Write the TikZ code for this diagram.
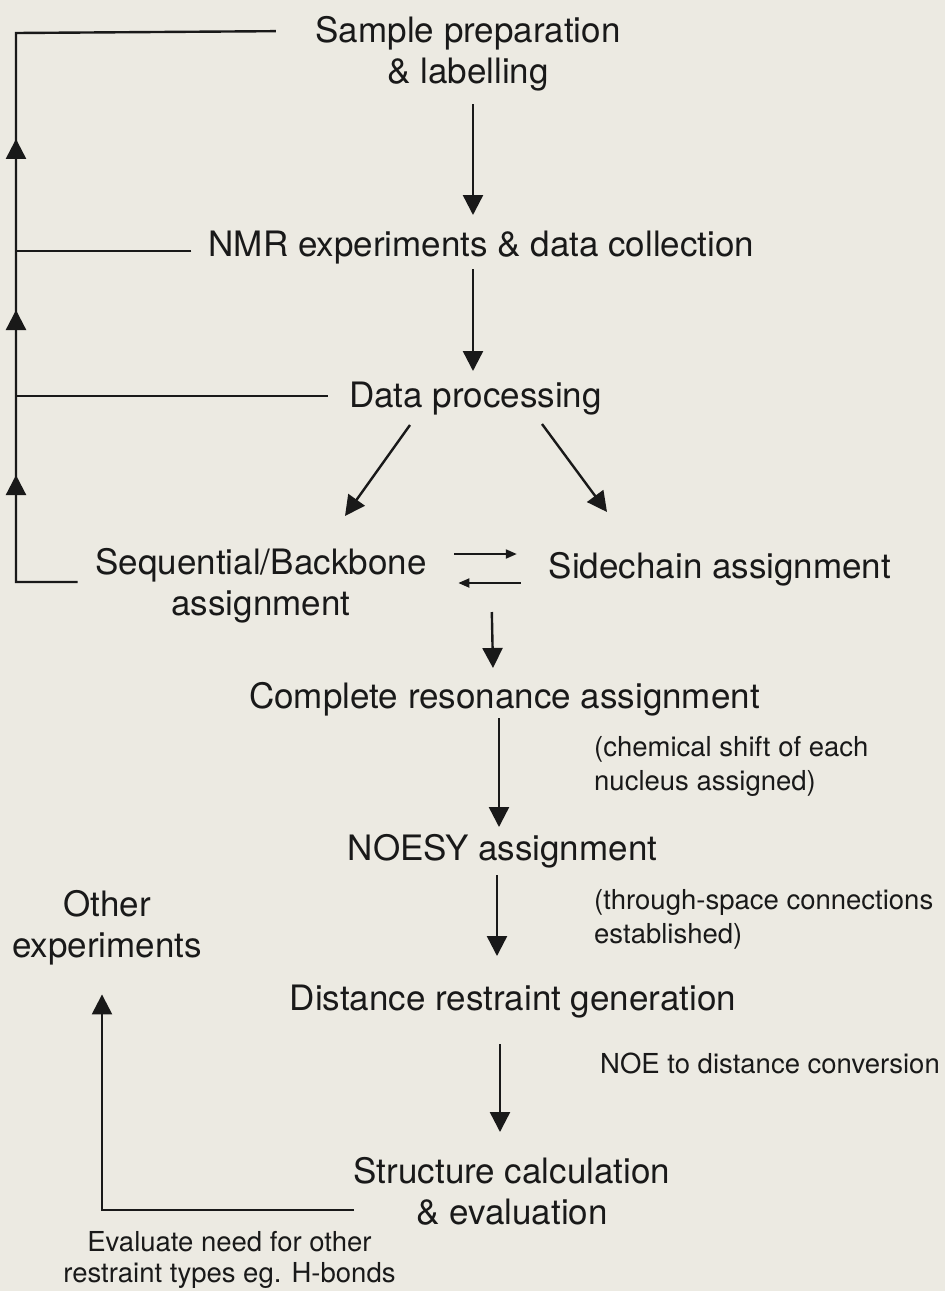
\documentclass[tikz,border=0pt]{standalone}
\usepackage{fontspec}
\setmainfont{TeX Gyre Heros}
\usetikzlibrary{arrows.meta, calc}
\definecolor{paper}{RGB}{236,234,226}
\definecolor{ink}{RGB}{25,25,25}

\begin{document}
\begin{tikzpicture}[x=0.5pt, y=-0.5pt, color=ink, line width=1.2pt,
        big/.style={font=\fontsize{17.5}{20.5}\selectfont, inner sep=0pt},
        small/.style={font=\fontsize{13.75}{17}\selectfont, inner sep=0pt},
        arr/.style={-{Triangle[width=10pt, length=10pt]}},
        harr/.style={line width=1pt, -{Triangle[width=4.5pt, length=5.5pt]}}]
        \fill[paper] (0, 0) rectangle (945, 1291);
        \useasboundingbox (0, 0) rectangle (945, 1291);

        \node[big, align=center, anchor=base] (sample) at (468, 83) {Sample preparation\\\& labelling};
        \node[big, anchor=base] (nmr) at (481.5, 256) {NMR experiments \& data collection};
        \node[big, anchor=base] (data) at (475.5, 407) {Data processing};
        \node[big, align=center, anchor=base] (seq) at (261, 615) {Sequential/Backbone\\assignment};
        \node[big, anchor=base] (side) at (720, 578) {Sidechain assignment};
        \node[big, anchor=base] (complete) at (504.5, 708) {Complete resonance assignment};
        \node[small, align=left, anchor=base west] (chemnote) at (593, 790) {(chemical shift of each\\nucleus assigned)};
        \node[big, anchor=base] (noesy) at (502.5, 860) {NOESY assignment};
        \node[small, align=left, anchor=base west] (spacenote) at (593, 943) {(through-space connections\\established)};
        \node[big, align=center, anchor=base] (other) at (107, 957) {Other\\experiments};
        \node[big, anchor=base] (distance) at (513, 1010) {Distance restraint generation};
        \node[small, anchor=base west] (convnote) at (599, 1073) {NOE to distance conversion};
        \node[big, align=center, anchor=base] (struct) at (512, 1224) {Structure calculation\\\& evaluation};
        \node[small, align=center, anchor=base, font=\fontsize{13.75}{15.5}\selectfont] (need) at (229.5, 1282) {Evaluate need for other\\restraint types eg. H-bonds};

        % main flow
        \draw[arr] ([xshift=2.5pt, yshift=-6.3pt]sample.south) -- ([xshift=-4.25pt, yshift=20.5pt]nmr.base);
        \draw[arr] ([xshift=-4.25pt, yshift=-6.5pt]nmr.base) -- ([xshift=-1.25pt, yshift=18pt]data.base);
        \draw[arr] ([xshift=-32.75pt, yshift=-9pt]data.base) -- ([xshift=42pt, yshift=49.5pt]seq.base);
        \draw[arr] ([xshift=33.25pt, yshift=-8.5pt]data.base) -- ([xshift=-56.5pt, yshift=33pt]side.base);
        \draw[harr] ([xshift=13.3pt, yshift=30.5pt]seq.base east) -- ([xshift=-15.4pt, yshift=12pt]side.base west);
        \draw[harr] ([xshift=-13.4pt, yshift=-2.5pt]side.base west) -- ([xshift=15.3pt, yshift=16pt]seq.base east);
        \draw[arr] ([xshift=-27.9pt, yshift=-17pt]side.base west) -- ([xshift=-5.75pt, yshift=20pt]complete.base);
        \draw[arr] ([xshift=-2.75pt, yshift=-5pt]complete.base) -- ([xshift=-1.75pt, yshift=16.5pt]noesy.base);
        \draw[arr] ([xshift=-2.75pt, yshift=-7.5pt]noesy.base) -- ([xshift=-8pt, yshift=27pt]distance.base);
        \draw[arr] ([xshift=-6.5pt, yshift=-17pt]distance.base) -- ([xshift=-6pt, yshift=46pt]struct.base);

        % feedback to other experiments
        \draw[arr] ([xshift=0.75pt, yshift=7pt]struct.base west) -| ([xshift=-2.5pt, yshift=-14.3pt]other.south);

        % feedback line on the left
        \coordinate (back1) at (16, 33);
        \coordinate (back2) at (16, 251);
        \coordinate (back3) at (16, 396);
        \coordinate (back4) at (16, 582);
        \draw ([xshift=-8.3pt, yshift=16.5pt]seq.base west) -- (back4) -- (back1) -- ([xshift=-19.2pt, yshift=-8.25pt]sample.north west);
        \draw ([xshift=-8.1pt, yshift=2.5pt]nmr.base west) -- (back2);
        \draw ([xshift=-10pt, yshift=5.5pt]data.base west) -- (back3);
        \draw[arr] (back4) -- ($(back4)!0.575!(back3)$);
        \draw[arr] (back3) -- ($(back3)!0.593!(back2)$);
        \draw[arr] (back2) -- ($(back2)!0.514!(back1)$);
    \end{tikzpicture}
\end{document}
